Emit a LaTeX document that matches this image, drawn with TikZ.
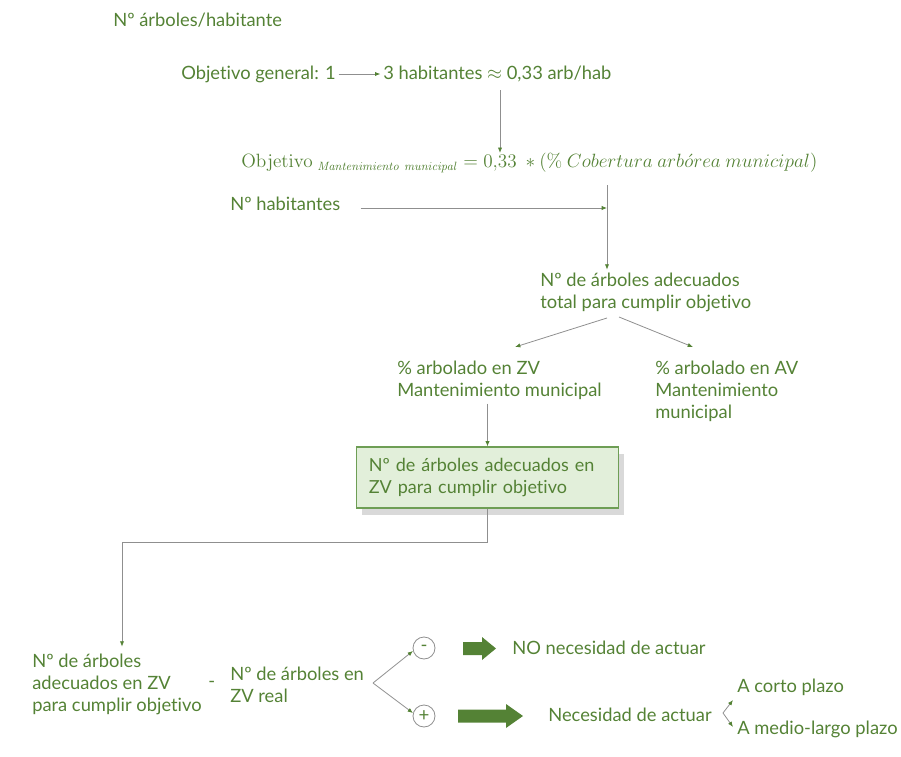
\documentclass[tikz,border=0pt]{standalone}
\usepackage[no-math]{fontspec}
\setmainfont{Lato}[Ligatures=NoCommon]
\usetikzlibrary{arrows.meta,shadows}
\definecolor{verde}{HTML}{548235}
\definecolor{gris}{HTML}{8F8F8F}
\definecolor{fondocaja}{HTML}{E2EFDA}
\definecolor{bordecaja}{HTML}{6E9E55}
\begin{document}
\begin{tikzpicture}[x=0.75pt,y=-0.75pt,
  txt/.style={anchor=west,inner sep=0pt,text=verde,align=left,
    font=\fontsize{13.75}{16.5}\selectfont},
  flecha/.style={draw=gris,line width=0.6pt,-{Latex[length=4pt,width=3.2pt,color=verde]}},
  linea/.style={draw=gris,line width=0.6pt},
  signo/.style={circle,draw=gris,line width=0.6pt,minimum size=16.5pt,inner sep=0pt,
    text=verde,font=\fontsize{14}{14}\selectfont},
  caja/.style={draw=bordecaja,line width=0.8pt,fill=fondocaja,minimum width=195.75pt,
    minimum height=45.75pt,text width=178pt,align=left,inner xsep=9pt,text=verde,
    font=\fontsize{13.5}{16.5}\selectfont,
    drop shadow={shadow xshift=4pt,shadow yshift=-5pt,opacity=0.25,fill=black!60}}]
\useasboundingbox (0,0) rectangle (901,757);
\node[txt] (titulo) at (113,20) {Nº árboles/habitante};
\node[txt] (objgen) at (181,74) {Objetivo general: 1};
\node[txt] (treshab) at (383,74) {3 habitantes $\approx$ 0,33 arb/hab};
\draw[flecha] ([xshift=2pt]objgen.east) -- ([xshift=-2pt]treshab.west);
\node[txt,font=\fontsize{13.3}{16}\selectfont] (formula) at (241,163)
  {$\mathrm{Objetivo}\ _{\mathit{Mantenimiento\ municipal}} = 0{,}33\ \ast (\%\ Cobertura\ arb\acute{o}rea\ municipal)$};
\coordinate (bajada) at (500,90);
\draw[flecha] (bajada) -- (bajada |- formula.north);
\node[txt] (nhab) at (230,204) {Nº habitantes};
\coordinate (arriba) at (607,185);
\node[txt] (total) at (540,292) {Nº de árboles adecuados\\total para cumplir objetivo};
\draw[flecha] ([xshift=15pt,yshift=-3pt]nhab.east) -- ([yshift=-3pt]nhab.east -| arriba);
\draw[flecha] (arriba) -- ([yshift=2pt]total.north -| arriba);
\node[txt] (zv) at (397,380) {\% arbolado en ZV\\Mantenimiento municipal};
\node[txt] (av) at (655,391) {\% arbolado en AV\\Mantenimiento\\municipal};
\draw[flecha] (607,318) -- (515,347);
\draw[flecha] (619,317) -- (693,347);
\node[caja] (objzvcaja) at (487.5,477.5) {Nº de árboles adecuados en\\ZV para cumplir objetivo};
\draw[flecha] (objzvcaja.north |- zv.south) ++(0,4) -- (objzvcaja.north);
\node[txt] (objzv) at (32,684) {Nº de árboles\\adecuados en ZV\\para cumplir objetivo};
\coordinate (codo) at (122,542);
\draw[flecha] (objzvcaja.south) |- (codo) -- ([yshift=5pt]objzv.north -| codo);
\node[txt] (menos) at (208,684) {-};
\node[txt] (real) at (230,685) {Nº de árboles en\\ZV real};
\coordinate (ramif) at (373,683);
\node[signo] (neg) at (424,648) {-};
\node[signo] (pos) at (424,716) {+};
\draw[flecha] (ramif) -- (neg.195);
\draw[flecha] (ramif) -- (pos.165);
\fill[verde] (463,642) -- (482,642) -- (482,637) -- (496,648.5) -- (482,660) -- (482,655) -- (463,655) -- cycle;
\fill[verde] (458,709.5) -- (506,709.5) -- (506,704) -- (523,716) -- (506,728) -- (506,722.5) -- (458,722.5) -- cycle;
\node[txt] (nonec) at (512,648) {NO necesidad de actuar};
\node[txt] (nec) at (548,715) {Necesidad de actuar};
\node[txt] (corto) at (737,687) {A corto plazo};
\node[txt] (medio) at (737,729) {A medio-largo plazo};
\coordinate (ramif2) at (723,713);
\draw[flecha] (ramif2) -- (733,700);
\draw[flecha] (ramif2) -- (733,727);
\end{tikzpicture}
\end{document}
